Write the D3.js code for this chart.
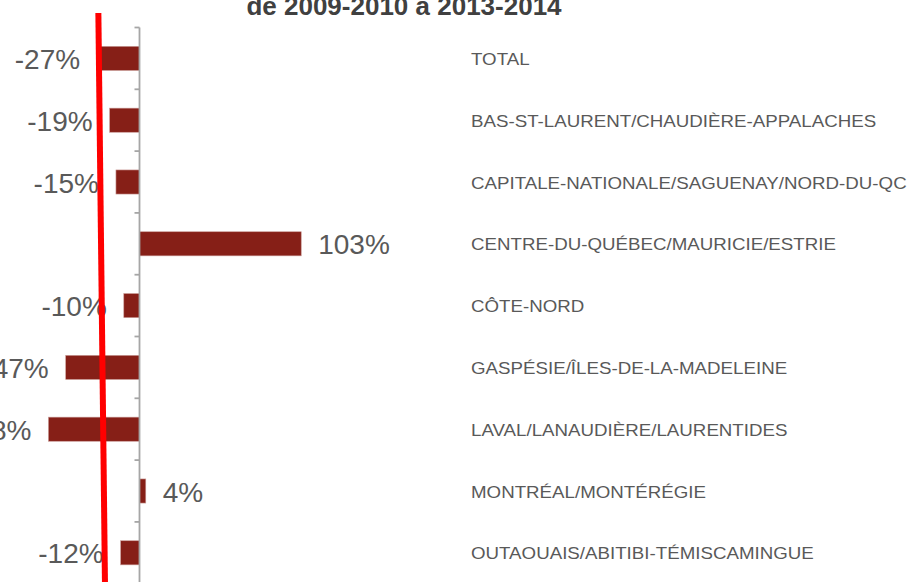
<!DOCTYPE html>
<html>
<head>
<meta charset="utf-8">
<script src="https://cdn.jsdelivr.net/npm/d3@7"></script>
<style>
  body { margin: 0; background: #fff; }
  svg { display: block; font-family: "Liberation Sans", Arial, sans-serif; }
</style>
</head>
<body>
<div id="chart"></div>
<script>
const categories = [
  "TOTAL",
  "BAS-ST-LAURENT/CHAUDIÈRE-APPALACHES",
  "CAPITALE-NATIONALE/SAGUENAY/NORD-DU-QC",
  "CENTRE-DU-QUÉBEC/MAURICIE/ESTRIE",
  "CÔTE-NORD",
  "GASPÉSIE/ÎLES-DE-LA-MADELEINE",
  "LAVAL/LANAUDIÈRE/LAURENTIDES",
  "MONTRÉAL/MONTÉRÉGIE",
  "OUTAOUAIS/ABITIBI-TÉMISCAMINGUE"
];
const values = [-27, -19, -15, 103, -10, -47, -58, 4, -12];
const titleText = "de 2009-2010 à 2013-2014";
// hand-drawn red annotation line, in value units (top and bottom ends)
const redLine = [{ v: -26.2, yPx: 13 }, { v: -22.0, yPx: 582 }];

const width = 913;
const height = 582;

const svg = d3.select("#chart")
  .append("svg")
  .attr("width", width)
  .attr("height", height);

const x = d3.scaleLinear()
  .domain([-60, 110])
  .range([139.5 - 60 * 1.57, 139.5 + 110 * 1.57]);

const y = d3.scaleBand()
  .domain(categories)
  .range([27.5, 27.5 + categories.length * 61.8])
  .paddingInner(0.61)
  .paddingOuter(0.305);

const step = y.step();

// title (first line is cut off above the frame)
svg.append("text")
  .attr("x", 404)
  .attr("y", 15)
  .attr("text-anchor", "middle")
  .style("font-size", "26px")
  .style("font-weight", "bold")
  .style("fill", "#404040")
  .text(titleText);

// bars
svg.selectAll("rect.bar")
  .data(values)
  .enter()
  .append("rect")
  .attr("class", "bar")
  .attr("x", d => x(Math.min(0, d)))
  .attr("y", (d, i) => y(categories[i]))
  .attr("width", d => Math.abs(x(d) - x(0)))
  .attr("height", y.bandwidth())
  .attr("fill", "#861f17")
  .attr("stroke", "#c99a96")
  .attr("stroke-width", 0.6);

// vertical axis with tick marks between categories
const axisG = svg.append("g");
axisG.append("line")
  .attr("x1", x(0))
  .attr("x2", x(0))
  .attr("y1", y.range()[0])
  .attr("y2", y.range()[1])
  .attr("stroke", "#a6a6a6")
  .attr("stroke-width", 1.8);

axisG.selectAll("line.tick")
  .data(d3.range(categories.length + 1))
  .enter()
  .append("line")
  .attr("class", "tick")
  .attr("x1", x(0) - 5)
  .attr("x2", x(0))
  .attr("y1", i => y.range()[0] + i * step)
  .attr("y2", i => y.range()[0] + i * step)
  .attr("stroke", "#a6a6a6")
  .attr("stroke-width", 1.8);

// value labels
svg.selectAll("text.val")
  .data(values)
  .enter()
  .append("text")
  .attr("class", "val")
  .attr("x", d => d < 0 ? x(d) - 17 : x(d) + 17)
  .attr("y", (d, i) => y(categories[i]) + y.bandwidth() / 2 + 1)
  .attr("dominant-baseline", "central")
  .attr("text-anchor", d => d < 0 ? "end" : "start")
  .style("font-size", "28px")
  .style("fill", "#595959")
  .text(d => d + "%");

// category labels (slightly stretched horizontally, as in the source)
svg.selectAll("text.cat")
  .data(categories)
  .enter()
  .append("text")
  .attr("class", "cat")
  .attr("transform", d => `translate(471,${y(d) + y.bandwidth() / 2 + 1}) scale(1.17,1)`)
  .attr("dominant-baseline", "central")
  .style("font-size", "16px")
  .style("fill", "#595959")
  .text(d => d);

// red annotation line
svg.append("line")
  .attr("x1", x(redLine[0].v))
  .attr("y1", redLine[0].yPx)
  .attr("x2", x(redLine[1].v))
  .attr("y2", redLine[1].yPx)
  .attr("stroke", "#ff0000")
  .attr("stroke-width", 6);
</script>
</body>
</html>
